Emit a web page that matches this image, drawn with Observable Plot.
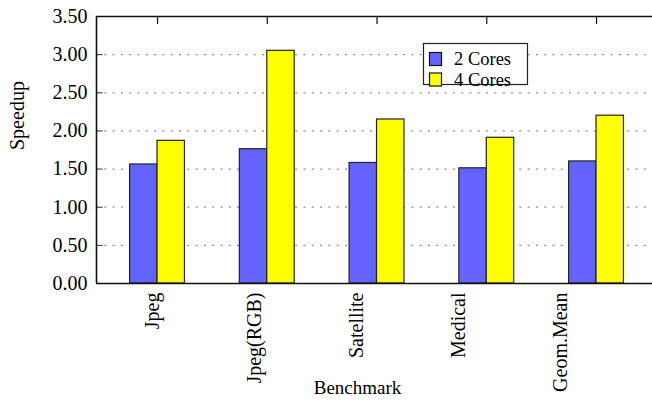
<!DOCTYPE html>
<html>
<head>
<meta charset="utf-8">
<script src="https://cdn.jsdelivr.net/npm/d3@7"></script>
<script src="https://cdn.jsdelivr.net/npm/@observablehq/plot@0.6"></script>
<style>
  body { margin: 0; background: #fff; }
  #wrap { position: relative; width: 652px; height: 403px; overflow: hidden; }
</style>
</head>
<body>
<div id="wrap"></div>
<script>
const benchmarks = ["Jpeg", "Jpeg(RGB)", "Satellite", "Medical", "Geom.Mean"];
const seriesNames = ["2 Cores", "4 Cores"];
const cores2 = [1.56, 1.76, 1.58, 1.51, 1.60];
const cores4 = [1.87, 3.05, 2.15, 1.91, 2.20];
const yTicks = [0, 0.5, 1, 1.5, 2, 2.5, 3, 3.5];
const colors = ["#6363ff", "#ffff00"];

const seriesValues = [cores2, cores4];
const rows = [];
benchmarks.forEach((b, i) => {
  seriesValues.forEach((vals, s) => rows.push({bench: b, i, s, series: seriesNames[s], value: vals[i]}));
});
const idx = benchmarks.map((_, i) => i);

const barW = 0.25;
const xMin = -0.556, xMax = 4.51;
const labelStep = 0.9276, labelShift = -0.041;
const font = "Liberation Serif";

const chart = Plot.plot({
  width: 652,
  height: 403,
  marginLeft: 96,
  marginRight: 0,
  marginTop: 16,
  marginBottom: 120,
  style: {fontFamily: font, fontSize: "19px", background: "#fff", color: "#000"},
  x: {type: "linear", domain: [xMin, xMax], axis: null},
  y: {domain: [0, 3.5], axis: null},
  color: {domain: seriesNames, range: colors},
  marks: [
    Plot.ruleY(yTicks.filter(t => t > 0 && t < 3.5), {y: d => d, x1: xMin, x2: xMax, stroke: "#8a8a8a", strokeWidth: 1.2, strokeDasharray: "2,6.3"}),
    Plot.ruleY(yTicks, {y: d => d, x1: xMin, x2: xMin + 0.06, stroke: "#333", strokeWidth: 1}),
    Plot.ruleX(idx, {x: d => d, y1: 3.5, y2: 3.5 - 0.105, stroke: "#111", strokeWidth: 1.2}),
    Plot.rectY(rows, {
      x1: d => d.i + (d.s - 1) * barW,
      x2: d => d.i + d.s * barW,
      y1: 0,
      y2: "value",
      fill: "series",
      stroke: "#222",
      strokeWidth: 1.2
    }),
    Plot.ruleY([0, 3.5], {x1: xMin, x2: xMax, stroke: "#111", strokeWidth: 1.6}),
    Plot.ruleX([xMin], {y1: 0, y2: 3.5, stroke: "#111", strokeWidth: 1.6}),
    Plot.text(yTicks, {x: xMin, y: d => d, text: d => d.toFixed(2), textAnchor: "end", dx: -9, fill: "#000", fontSize: 20}),
    Plot.text(benchmarks, {
      x: (d, i) => i * labelStep + labelShift,
      y: 0,
      text: d => d,
      rotate: -90,
      textAnchor: "end",
      lineAnchor: "middle",
      dy: 9,
      fill: "#000",
      fontSize: 20
    }),
    Plot.text(["Speedup"], {frameAnchor: "left", text: d => d, rotate: -90, dx: -79, fill: "#000", fontSize: 20}),
    Plot.text(["Benchmark"], {frameAnchor: "bottom", text: d => d, dy: 110, dx: -17, fill: "#000", fontSize: 19})
  ]
});
document.getElementById("wrap").appendChild(chart);

// Legend box drawn inside the plot's SVG (layout only, not data marks)
const svg = d3.select(chart);
const lg = svg.append("g");
lg.append("rect").attr("x", 423.5).attr("y", 43.5).attr("width", 104).attr("height", 41)
  .attr("fill", "#fff").attr("stroke", "#222").attr("stroke-width", 1.2);
const rowY = [59, 79.5];
seriesNames.forEach((name, s) => {
  lg.append("rect").attr("x", 429.5).attr("y", rowY[s] - 6.5).attr("width", 12).attr("height", 13)
    .attr("fill", colors[s]).attr("stroke", "#111").attr("stroke-width", 1.2);
  lg.append("text").attr("x", 454).attr("y", rowY[s]).attr("dy", "0.34em")
    .style("fill", "#000").style("font-family", "'Liberation Serif', serif").style("font-size", "18.5px")
    .style("text-anchor", "start").text(name);
});
</script>
</body>
</html>
